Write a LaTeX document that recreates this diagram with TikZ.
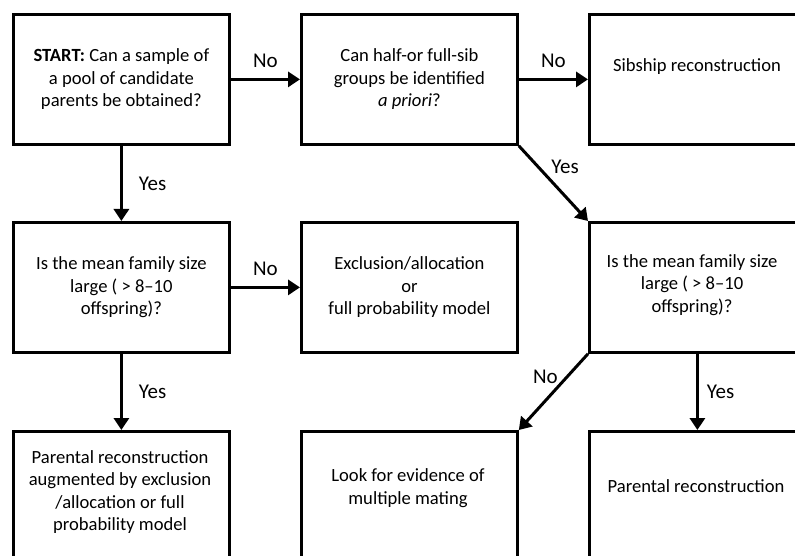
\documentclass[tikz,border=0pt]{standalone}
\usepackage{fontspec}
\setmainfont{Carlito}
\usetikzlibrary{arrows.meta}
\begin{document}
\begin{tikzpicture}[x=1pt,y=-1pt,
 box/.style={draw, line width=2.8pt, minimum width=216pt, minimum height=130pt, inner sep=0pt, align=center, font=\fontsize{18.6}{22.5}\selectfont, anchor=north west},
 txt/.style={align=center, inner sep=0pt, font=\fontsize{18.6}{22.5}\selectfont},
 arr/.style={line width=3pt, -{Triangle[length=12pt,width=15pt]}},
 lbl/.style={font=\fontsize{21}{24}\selectfont, inner sep=0pt}]
\useasboundingbox (0,0) rectangle (795,556);
\clip (0,0) rectangle (795,556);
% top row
\node[box] (b1) at (12,13) {\textbf{START:} Can a sample of\\a pool of candidate\\parents be obtained?};
\node[box] (b2) at (300,13) {Can half-or full-sib\\groups be identified\\\textit{a priori}?};
\node[box] (b3) at (588,13) {};
\node[txt] (b3t) at (697,67) {Sibship reconstruction};
% middle row
\node[box] (c1) at (12,221) {Is the mean family size\\large ( > 8–10\\offspring)?};
\node[box] (c2) at (300,221) {Exclusion/allocation\\or\\full probability model};
\node[box] (c3) at (588,221) {};
\node[txt] (c3t) at (692,285) {Is the mean family size\\large ( > 8–10\\offspring)?};
% bottom row
\node[box] (d1) at (12,430) {};
\node[txt] (d1t) at (120,492) {Parental reconstruction\\augmented by exclusion\\/allocation or full\\probability model};
\node[box] (d2) at (300,430) {};
\node[txt] (d2t) at (408,488) {Look for evidence of\\multiple mating};
\node[box] (d3) at (588,430) {};
\node[txt] (d3t) at (696,486) {Parental reconstruction};
% connectors
\draw[arr] (b1.east) -- (b2.west) node[lbl, midway, above=10pt] {No};
\draw[arr] (b2.east) -- (b3.west) node[lbl, midway, above=10pt] {No};
\draw[arr] (b1.south) -- (c1.north) node[lbl, midway, right=16pt] {Yes};
\draw[arr] (b2.south east) -- (c3.north west) node[lbl, pos=0.42, above right=2pt] {Yes};
\draw[arr] (c1.east) -- (c2.west) node[lbl, midway, above=10pt] {No};
\draw[arr] (c1.south) -- (d1.north) node[lbl, midway, right=16pt] {Yes};
\draw[arr] (c3.south west) -- (d2.north east) node[lbl, pos=0.3, left=8pt] {No};
\draw[arr] (c3.south) -- (d3.north) node[lbl, midway, right=8pt] {Yes};
\end{tikzpicture}
\end{document}
